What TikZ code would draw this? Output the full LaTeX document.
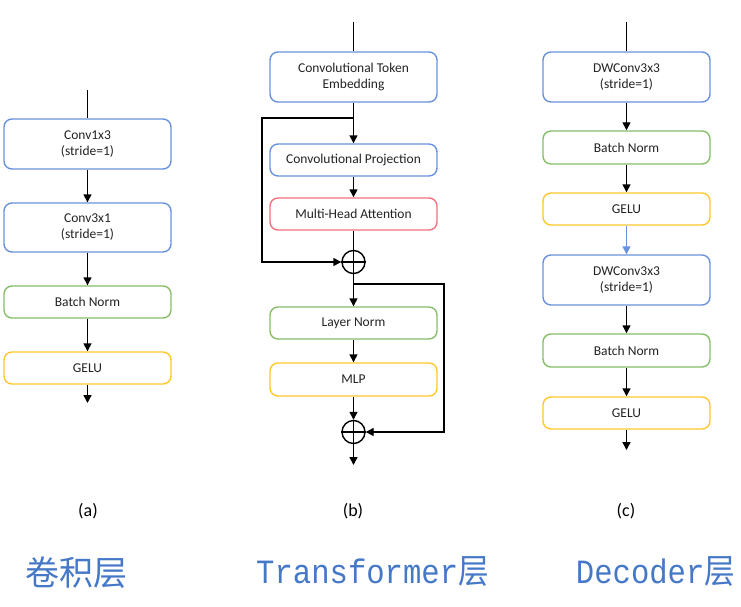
\documentclass[tikz,border=0pt]{standalone}
\usepackage{fontspec}
\setmainfont{Carlito}
\newfontfamily\cjkfont{Noto Sans CJK SC}
\newfontfamily\monofnt{Liberation Mono}
\usetikzlibrary{arrows.meta}
\definecolor{bblue}{RGB}{105,145,220}
\definecolor{bgreen}{RGB}{135,190,105}
\definecolor{bred}{RGB}{240,115,125}
\definecolor{byellow}{RGB}{255,200,45}
\definecolor{txt}{RGB}{35,35,35}
\definecolor{ttl}{RGB}{70,120,200}
\tikzset{
  blk/.style={draw, rounded corners=8pt, line width=1.4pt, minimum width=167pt, align=center,
    font=\fontsize{13.5}{16}\selectfont, text=txt, inner sep=0pt},
  conn/.style={line width=1.4pt, draw=black},
  arr/.style={conn, -{Triangle[length=8pt,width=8pt]}},
  plus/.style={draw, circle, line width=1.4pt, minimum size=23pt, inner sep=0pt},
  sub/.style={font=\fontsize{18}{20}\selectfont, text=black},
  ttlsty/.style={font=\fontsize{34}{38}\selectfont, text=ttl, inner sep=0pt, xscale=0.9}
}
\begin{document}
\begin{tikzpicture}[x=1pt,y=-1pt]
\useasboundingbox[fill=white] (0,0) rectangle (741,607);
% ---------- (a)
\coordinate (atop) at (87.5,90);
\node[blk, draw=bblue, minimum height=50pt] (a1) at (87.5,144) {Conv1x3\\(stride=1)};
\node[blk, draw=bblue, minimum height=49pt] (a2) at (87.5,227.5) {Conv3x1\\(stride=1)};
\node[blk, draw=bgreen, minimum height=32pt] (a3) at (87.5,302) {Batch Norm};
\node[blk, draw=byellow, minimum height=32pt] (a4) at (87.5,368) {GELU};
\coordinate (abot) at (87.5,403);
\draw[conn] (atop) -- (a1);
\draw[arr] (a1) -- (a2);
\draw[arr] (a2) -- (a3);
\draw[arr] (a3) -- (a4);
\draw[arr] (a4) -- (abot);
% ---------- (b)
\coordinate (btop) at (353.5,22);
\node[blk, draw=bblue, minimum height=50pt] (b1) at (353.5,77) {Convolutional Token\\Embedding};
\node[blk, draw=bblue, minimum height=32pt] (b2) at (353.5,160) {Convolutional Projection};
\node[blk, draw=bred, minimum height=32pt] (b3) at (353.5,214) {Multi-Head Attention};
\node[plus] (p1) at (353.5,262) {};
\node[blk, draw=bgreen, minimum height=32pt] (b4) at (353.5,323) {Layer Norm};
\node[blk, draw=byellow, minimum height=33pt] (b5) at (353.5,379.5) {MLP};
\node[plus] (p2) at (353.5,432) {};
\coordinate (bbot) at (353.5,465);
\coordinate (br1) at (353.5,118);
\coordinate (br1l) at (262,118);
\coordinate (br1b) at (262,262);
\coordinate (br2) at (353.5,284);
\coordinate (br2r) at (444,284);
\coordinate (br2b) at (444,432);
\draw[line width=1.4pt] (p1.north) -- (p1.south) (p1.west) -- (p1.east);
\draw[line width=1.4pt] (p2.north) -- (p2.south) (p2.west) -- (p2.east);
\draw[conn] (btop) -- (b1);
\draw[arr] (b1) -- (b2);
\draw[arr] (b2) -- (b3);
\draw[conn] (b3) -- (p1);
\draw[arr] (br1) -- (br1l) -- (br1b) -- (p1);
\draw[arr] (p1) -- (b4);
\draw[arr] (b4) -- (b5);
\draw[arr] (b5) -- (p2);
\draw[arr] (br2) -- (br2r) -- (br2b) -- (p2);
\draw[arr] (p2) -- (bbot);
% ---------- (c)
\coordinate (ctop) at (626.5,22);
\node[blk, draw=bblue, minimum height=50pt] (c1) at (626.5,77) {DWConv3x3\\(stride=1)};
\node[blk, draw=bgreen, minimum height=33pt] (c2) at (626.5,147.5) {Batch Norm};
\node[blk, draw=byellow, minimum height=32pt] (c3) at (626.5,209) {GELU};
\node[blk, draw=bblue, minimum height=50pt] (c4) at (626.5,280) {DWConv3x3\\(stride=1)};
\node[blk, draw=bgreen, minimum height=33pt] (c5) at (626.5,350.5) {Batch Norm};
\node[blk, draw=byellow, minimum height=32pt] (c6) at (626.5,413) {GELU};
\coordinate (cbot) at (626.5,450);
\draw[conn] (ctop) -- (c1);
\draw[arr] (c1) -- (c2);
\draw[arr] (c2) -- (c3);
\draw[arr, draw=bblue, fill=bblue] (c3) -- (c4);
\draw[arr] (c4) -- (c5);
\draw[arr] (c5) -- (c6);
\draw[arr] (c6) -- (cbot);
% ---------- captions
\node[sub] (la) at (88,511) {(a)};
\node[sub] (lb) at (353,511) {(b)};
\node[sub] (lc) at (626,511) {(c)};
\node[ttlsty, xscale=1.111] (ta) at (76.5,573) {\cjkfont 卷积层};
\node[ttlsty] (tb) at (372.5,572) {\monofnt Transformer\cjkfont 层};
\node[ttlsty] (tc) at (655.5,572) {\monofnt Decoder\cjkfont 层};
\end{tikzpicture}
\end{document}
